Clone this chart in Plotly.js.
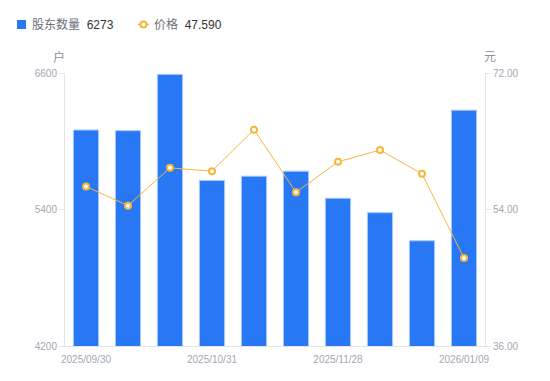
<!DOCTYPE html>
<html>
<head>
<meta charset="utf-8">
<script src="https://cdn.plot.ly/plotly-3.0.1.min.js"></script>
<style>html,body{margin:0;padding:0;background:#fff;}#chart{width:550px;height:381px;}</style>
</head>
<body>
<div id="chart"></div>
<script>
const dates = ["2025/09/30","2025/10/10","2025/10/20","2025/10/31","2025/11/10","2025/11/20","2025/11/28","2025/12/10","2025/12/20","2026/01/09"];
const holders = [6099, 6093, 6588, 5655, 5693, 5737, 5499, 5372, 5125, 6273];
const prices = [57.03, 54.51, 59.49, 59.05, 64.53, 56.27, 60.29, 61.84, 58.70, 47.59];
const tickDates = ["2025/09/30","2025/10/31","2025/11/28","2026/01/09"];
const leftTicks = [4200, 5400, 6600];
const rightTicks = [36, 54, 72];

const fontFam = "Liberation Sans, Arial, Noto Sans CJK SC, sans-serif";
const axisGray = "#a3a7b3";
const lineGray = "#e3e5ea";
const barBlue = "#2878f5";
const orange = "#f7b53b";

// plot area in pixels: x 65..485, y 73..346
const PL = 65, PW = 420, PB = 346, PH = 273;
const px = v => (v - PL) / PW;
const py = v => (PB - v) / PH;

const traces = [
  {
    type: "bar", x: dates, y: holders, name: "股东数量",
    marker: {color: barBlue, line: {color: "#a9c9fb", width: 1}},
    width: 0.6, yaxis: "y"
  },
  {
    type: "scatter", mode: "lines+markers", x: dates, y: prices, name: "价格",
    line: {color: orange, width: 1},
    marker: {symbol: "circle", size: 6, color: "#ffffff", line: {color: orange, width: 2}},
    yaxis: "y2"
  }
];

const layout = {
  width: 550, height: 381,
  margin: {l: 65, r: 65, t: 73, b: 35},
  paper_bgcolor: "#fff", plot_bgcolor: "#fff",
  font: {family: fontFam, size: 10, color: axisGray},
  showlegend: false,
  xaxis: {
    type: "category", range: [-0.5, dates.length - 0.5], automargin: false,
    tickvals: tickDates, ticktext: tickDates, ticklabelstandoff: 4,
    showline: true, linecolor: lineGray, linewidth: 1,
    ticks: "", showgrid: false, zeroline: false,
    tickfont: {size: 10, color: axisGray}
  },
  yaxis: {
    range: [4200, 6600], tickvals: leftTicks, showgrid: false, zeroline: false, automargin: false,
    showline: true, linecolor: lineGray, ticks: "outside", ticklen: 5, tickcolor: lineGray,
    tickfont: {size: 10, color: axisGray}
  },
  yaxis2: {
    range: [36, 72], tickvals: rightTicks, tickformat: ".2f", overlaying: "y", side: "right",
    showgrid: false, zeroline: false, showline: true, linecolor: lineGray, automargin: false,
    ticks: "outside", ticklen: 5, tickcolor: lineGray, tickfont: {size: 10, color: axisGray}
  },
  shapes: [
    {type: "rect", xref: "paper", yref: "paper", x0: px(17), x1: px(26), y0: py(29), y1: py(20),
     fillcolor: barBlue, line: {width: 0}},
    {type: "line", xref: "paper", yref: "paper", x0: px(138), x1: px(149), y0: py(24.5), y1: py(24.5),
     line: {color: orange, width: 1.5}},
    {type: "circle", xref: "paper", yref: "paper", x0: px(140.5), x1: px(146.5), y0: py(27.5), y1: py(21.5),
     fillcolor: "#fff", line: {color: orange, width: 2}}
  ],
  annotations: [
    {text: '股东数量&nbsp;&nbsp;<span style="color:#333">' + holders[holders.length-1] + '</span>',
     xref: "paper", yref: "paper", x: px(30), y: py(24.5), xanchor: "left", yanchor: "middle",
     showarrow: false, font: {size: 12, color: "#6b6f7a"}},
    {text: '价格&nbsp;&nbsp;<span style="color:#333">' + prices[prices.length-1].toFixed(3) + '</span>',
     xref: "paper", yref: "paper", x: px(152), y: py(24.5), xanchor: "left", yanchor: "middle",
     showarrow: false, font: {size: 12, color: "#6b6f7a"}},
    {text: "户", xref: "paper", yref: "paper", x: px(59), y: py(57), showarrow: false,
     font: {size: 12, color: "#8a8f9c"}, xanchor: "center", yanchor: "middle"},
    {text: "元", xref: "paper", yref: "paper", x: px(490), y: py(57), showarrow: false,
     font: {size: 12, color: "#8a8f9c"}, xanchor: "center", yanchor: "middle"}
  ]
};

Plotly.newPlot("chart", traces, layout, {displayModeBar: false, staticPlot: true});
</script>
</body>
</html>
